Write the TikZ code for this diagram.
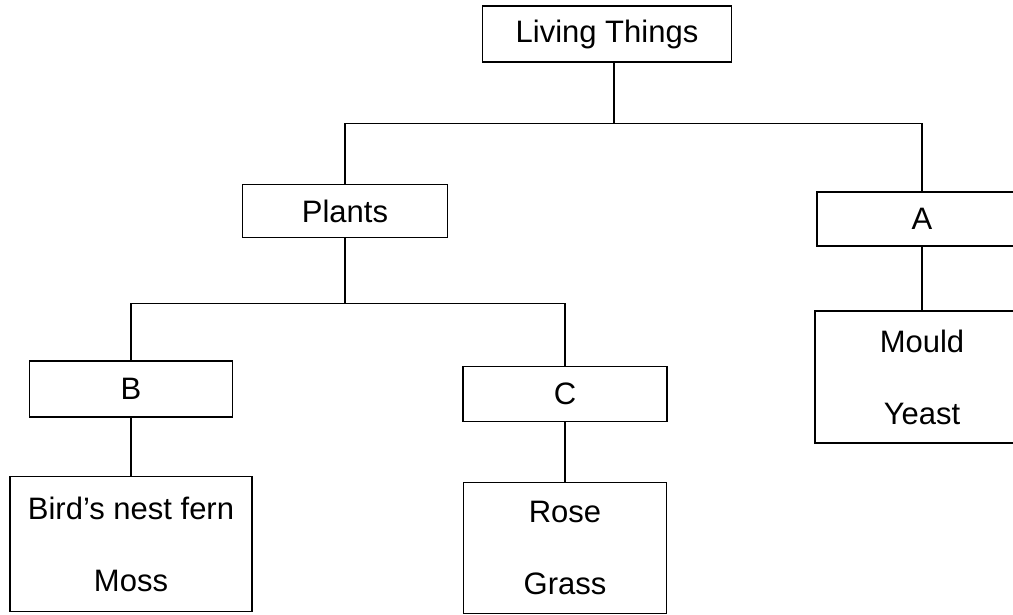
\documentclass[tikz,border=0pt]{standalone}
\usepackage{fontspec}
\setmainfont{Liberation Sans}
\begin{document}
\begin{tikzpicture}[x=1pt,y=-1pt,line width=1.4pt,
  every node/.style={font=\fontsize{31}{72}\selectfont},
  box/.style={draw,inner sep=0pt,align=center}]
\useasboundingbox (0,0) rectangle (1013,615);
\clip (0,0) rectangle (1013,615);

% groups
\node[box,minimum width=249,minimum height=56] (living) at (607,34)  {Living Things};
\node[box,minimum width=205,minimum height=53] (plants) at (345,211) {Plants};
\node[box,minimum width=210,minimum height=54] (a)      at (922,219) {A};
\node[box,minimum width=203,minimum height=56] (b)      at (131,389) {B};
\node[box,minimum width=204,minimum height=55] (c)      at (565,394) {C};

% members
\node[box,minimum width=242,minimum height=135] (ferns)  at (131,544) {Bird’s nest fern\\Moss};
\node[box,minimum width=203,minimum height=131] (flower) at (565,548) {Rose\\Grass};
\node[box,minimum width=214,minimum height=132] (fungi)  at (922,377) {Mould\\Yeast};

% branches
\draw ([xshift=7pt]living.south) -- ++(0,61) coordinate (top);
\draw (plants.north) |- (top) -| (a.north);
\draw (plants.south) -- ++(0,65) coordinate (mid);
\draw (b.north) |- (mid) -| (c.north);
\draw (b) -- (ferns) (c) -- (flower) (a) -- (fungi);
\end{tikzpicture}
\end{document}
